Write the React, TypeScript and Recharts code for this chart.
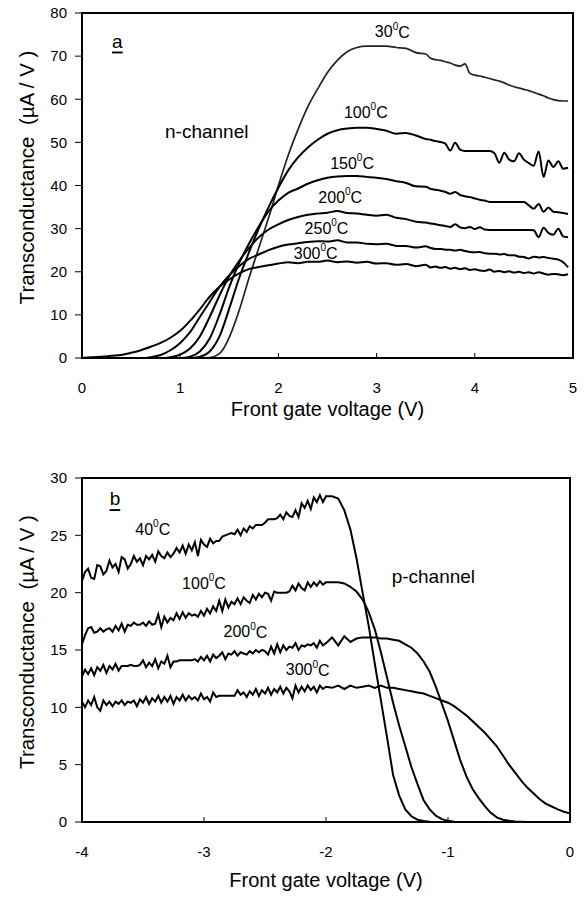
import React from "react";
import { LineChart, Line, XAxis, YAxis, ReferenceArea, ReferenceDot } from "recharts";

const FONT = "'Liberation Sans', Arial, sans-serif";

// ---- panel a : n-channel ----
const VG_N = [
  0, 0.1, 0.2, 0.3, 0.4, 0.5, 0.6, 0.7, 0.8, 0.9, 1.0, 1.1, 1.2, 1.3, 1.4, 1.5, 1.6, 1.7,
  1.8, 1.9, 2.0, 2.1, 2.2, 2.3, 2.4, 2.5, 2.6, 2.7, 2.8, 2.9, 3.0, 3.1, 3.2, 3.3, 3.4, 3.5,
  3.55, 3.6, 3.65, 3.7, 3.75, 3.8, 3.85, 3.9, 3.95, 4.0, 4.05, 4.1, 4.15, 4.2, 4.25, 4.3,
  4.35, 4.4, 4.45, 4.5, 4.55, 4.6, 4.65, 4.7, 4.75, 4.8, 4.85, 4.9, 4.95,
];
const GM_N_30 = [
  0, 0, 0, 0, 0, 0, 0, 0, 0, 0, 0, 0, 0, 0.1, 1.0, 4.8, 11, 18.5,
  25.5, 32.5, 40, 47, 53, 58.3, 62.4, 66.2, 69, 71, 72, 72.3, 72.3, 72.3, 72.0, 71.8, 70.8, 70.5,
  69.5, 69.2, 69.0, 68.7, 68.4, 67.9, 67.7, 68.2, 66.0, 65.6, 65.4, 65.1, 64.8, 64.5, 64.2, 63.8,
  63.3, 62.9, 62.6, 62.3, 62.0, 61.6, 61.2, 60.8, 60.3, 59.9, 59.7, 59.6, 59.6,
];
const GM_N_100 = [
  0, 0, 0, 0, 0, 0, 0, 0, 0, 0, 0, 0, 0.3, 1.5, 5, 11.5, 18.5, 24.5,
  30, 35, 39.5, 43.5, 46.5, 48.8, 50.6, 52, 52.8, 53.2, 53.4, 53.4, 53.1, 52.7, 52.0, 52.2, 51.6, 50.8,
  50.6, 50.3, 50.1, 49.7, 48.1, 49.9, 48.3, 48.0, 48.0, 48.0, 48.0, 48.0, 48.0, 47.5, 45.3, 47.6,
  46.0, 45.6, 47.5, 46.0, 45.2, 44.6, 47.9, 42.0, 45.8, 44.3, 45.6, 43.9, 44.1,
];
const GM_N_150 = [
  0, 0, 0, 0, 0, 0, 0, 0, 0, 0, 0, 0.3, 1.5, 4.5, 10, 16.5, 22, 26.5,
  30.5, 34, 36.5, 38.3, 39.3, 40.4, 41.2, 41.8, 42.1, 42.2, 42.2, 42.0, 41.8, 41.5, 41.0, 40.6, 39.8, 39.7,
  39.2, 39.0, 38.8, 38.5, 38.1, 38.5, 37.8, 37.5, 37.3, 37.0, 36.7, 36.5, 36.2, 36.2, 36.2, 36.2,
  36.2, 36.2, 36.2, 36.2, 35.4, 34.6, 35.7, 33.9, 34.9, 33.9, 33.8, 33.6, 33.4,
];
const GM_N_200 = [
  0, 0, 0, 0, 0, 0, 0, 0, 0, 0.2, 0.8, 2.2, 5, 9.5, 14.5, 19, 22.5, 25.5,
  28, 29.8, 31.0, 32.0, 32.7, 33.2, 33.5, 33.7, 34.1, 33.6, 33.5, 33.2, 33.0, 33.2, 32.5, 32.2, 31.6, 31.4,
  31.2, 31.0, 30.8, 30.6, 30.4, 31.0, 30.3, 30.1, 30.4, 29.9, 30.3, 29.8, 29.7, 29.7, 29.7, 29.7,
  29.7, 29.7, 29.7, 29.7, 29.7, 29.6, 28.0, 30.2, 29.0, 28.6, 30.0, 28.2, 28.0,
];
const GM_N_250 = [
  0, 0, 0, 0, 0, 0, 0, 0.2, 0.7, 1.8, 3.5, 6, 9.5, 13, 16.5, 19.2, 21.3, 23,
  24, 25, 25.8, 26.3, 26.6, 26.9, 27.1, 27.0, 27.3, 26.8, 26.8, 26.5, 26.4, 26.5, 26.0, 26.0, 25.6, 25.9,
  25.5, 25.3, 25.3, 25.1, 25.1, 24.9, 25.1, 24.8, 24.6, 24.5, 24.6, 24.3, 24.2, 24.2, 24.0, 24.1,
  23.8, 23.8, 23.5, 23.4, 23.1, 23.5, 23.3, 23.4, 23.2, 23.0, 22.8, 22.2, 21.0,
];
const GM_N_300 = [
  0, 0.2, 0.3, 0.5, 0.7, 1.2, 1.8, 2.6, 3.5, 4.7, 6.3, 8.6, 11.3, 14.2, 16.5, 18.2, 19.6, 20.6,
  21.1, 21.5, 21.9, 22.2, 22.0, 22.3, 22.3, 22.6, 22.2, 22.4, 22.1, 22.3, 21.9, 22.0, 21.6, 21.8, 21.3, 21.6,
  21.0, 21.2, 20.9, 21.1, 20.7, 20.9, 20.6, 20.8, 20.4, 20.6, 20.3, 20.2, 20.5, 20.0, 20.2, 19.9,
  20.1, 19.8, 20.0, 19.7, 19.9, 19.6, 19.9, 19.6, 19.3, 19.5, 19.4, 19.2, 19.4,
];
const N_TICKS_X = [0, 1, 2, 3, 4, 5];
const N_TICKS_Y = [0, 10, 20, 30, 40, 50, 60, 70, 80];
const N_LABELS = [
  { t: "30", x: 3.16, y: 75.6 },
  { t: "100", x: 2.89, y: 57.0 },
  { t: "150", x: 2.75, y: 45.2 },
  { t: "200", x: 2.63, y: 37.3 },
  { t: "250", x: 2.49, y: 30.1 },
  { t: "300", x: 2.38, y: 24.3 },
];

// ---- panel b : p-channel ----
const VG_P = [
  -4, -3.975, -3.95, -3.925, -3.9, -3.875, -3.85, -3.825, -3.8, -3.775, -3.75, -3.725, -3.7,
  -3.675, -3.65, -3.625, -3.6, -3.575, -3.55, -3.525, -3.5, -3.475, -3.45, -3.425, -3.4, -3.375,
  -3.35, -3.325, -3.3, -3.275, -3.25, -3.225, -3.2, -3.175, -3.15, -3.125, -3.1, -3.075, -3.05,
  -3.025, -3, -2.975, -2.95, -2.925, -2.9, -2.875, -2.85, -2.825, -2.8, -2.775, -2.75, -2.725,
  -2.7, -2.675, -2.65, -2.625, -2.6, -2.575, -2.55, -2.525, -2.5, -2.475, -2.45, -2.425, -2.4,
  -2.375, -2.35, -2.325, -2.3, -2.275, -2.25, -2.225, -2.2, -2.175, -2.15, -2.125, -2.1, -2.075,
  -2.05, -2.025, -2,
  -1.95, -1.9, -1.85, -1.8, -1.75, -1.7, -1.65, -1.6, -1.55, -1.5, -1.45, -1.4, -1.35, -1.3,
  -1.25, -1.2, -1.15, -1.1, -1.05, -1, -0.95, -0.9, -0.85, -0.8, -0.75, -0.7, -0.65, -0.6,
  -0.55, -0.5, -0.45, -0.4, -0.35, -0.3, -0.25, -0.2, -0.15, -0.1, -0.05, 0,
];
const GM_P_40 = [
  21.0, 21.8, 22.1, 21.3, 21.2, 22.4, 22.3, 21.6, 21.9, 22.8, 22.2, 22.5, 21.8,
  23.1, 22.9, 22.1, 22.5, 23.2, 22.7, 23.0, 22.4, 23.2, 22.9, 23.3, 22.7, 23.6,
  23.2, 23.0, 23.5, 23.1, 23.4, 23.9, 23.5, 24.1, 23.4, 24.2, 23.7, 24.4, 23.2,
  24.6, 24.2, 24.0, 24.7, 24.3, 24.5, 24.5, 24.9, 25.0, 25.1, 25.2, 25.1, 25.5,
  25.0, 25.6, 25.3, 25.8, 25.6, 25.9, 25.9, 25.9, 26.1, 26.4, 26.4, 26.4, 26.5,
  26.8, 26.4, 27.0, 26.7, 26.6, 27.2, 26.6, 27.8, 27.4, 28.0, 27.3, 28.3, 27.9,
  28.5, 27.9, 28.4,
  28.4, 28.2, 27.2, 25.5, 23.0, 20.0, 17.1, 13.8, 10.6, 7.4, 4.1, 2.3, 1.1, 0.5,
  0.2, 0.08, 0.03, 0, 0, 0, 0, 0, 0, 0, 0, 0, 0, 0,
  0, 0, 0, 0, 0, 0, 0, 0, 0, 0, 0, 0,
];
const GM_P_100 = [
  15.5, 16.3, 16.9, 17.0, 16.5, 16.6, 16.9, 16.6, 16.8, 16.9, 16.6, 17.1, 16.7,
  17.3, 16.6, 17.2, 17.1, 17.4, 17.2, 17.2, 17.4, 17.1, 17.5, 17.2, 17.3, 18.1,
  17.0, 17.9, 17.4, 17.8, 17.6, 18.2, 17.7, 18.3, 17.8, 18.2, 18.0, 18.1, 17.9,
  18.4, 18.0, 18.6, 18.2, 18.8, 18.4, 19.3, 18.4, 19.4, 18.7, 19.2, 19.0, 19.5,
  19.0, 19.6, 19.3, 19.1, 19.8, 19.4, 19.9, 19.6, 20.0, 19.9, 19.3, 20.1, 20.0,
  20.0, 20.0, 20.0, 20.1, 20.6, 20.2, 20.8, 20.4, 20.2, 20.9, 20.5, 20.9, 20.6,
  21.0, 20.7, 20.9,
  20.9, 20.9, 20.8, 20.5, 20.1, 19.4, 18.3, 16.8, 14.8, 12.6, 10.4, 8.4, 6.6, 4.8,
  3.3, 1.9, 1.1, 0.55, 0.25, 0.1, 0.03, 0, 0, 0, 0, 0, 0, 0,
  0, 0, 0, 0, 0, 0, 0, 0, 0, 0, 0, 0,
];
const GM_P_200 = [
  12.7, 13.3, 12.9, 13.4, 12.8, 13.5, 13.2, 13.7, 13.0, 13.6, 13.3, 13.8, 13.2,
  13.6, 13.6, 13.6, 13.7, 13.6, 13.6, 13.7, 14.1, 13.5, 13.9, 13.6, 14.2, 13.4,
  14.0, 13.8, 14.5, 13.5, 14.0, 14.0, 14.1, 14.1, 14.1, 14.1, 14.1, 14.2, 14.0,
  14.4, 14.1, 14.5, 14.0, 14.6, 14.3, 14.5, 14.8, 14.2, 14.7, 14.6, 14.9, 14.5,
  14.8, 14.7, 14.6, 14.9, 14.7, 15.0, 14.8, 15.0, 14.9, 14.6, 15.3, 14.7, 15.5,
  14.8, 15.4, 15.0, 15.3, 15.2, 15.6, 15.0, 15.4, 15.3, 15.5, 15.4, 15.6, 15.2,
  15.8, 15.4, 15.6,
  16.1, 15.4, 16.2, 15.7, 16.0, 16.1, 16.1, 16.1, 16.0, 16.0, 15.9, 15.8, 15.5, 15.2,
  14.7, 14.0, 13.1, 11.8, 10.3, 8.8, 7.1, 5.4, 4.0, 2.9, 2.1, 1.4, 0.8, 0.4,
  0.2, 0.1, 0.05, 0.02, 0, 0, 0, 0, 0, 0, 0, 0,
];
const GM_P_300 = [
  10.5, 10.0, 10.6, 10.2, 10.9, 10.0, 9.7, 10.6, 10.2, 10.5, 10.1, 10.5, 10.3,
  10.6, 10.2, 10.5, 10.4, 10.6, 10.1, 10.7, 10.4, 10.9, 10.3, 10.8, 10.5, 11.0,
  10.4, 10.9, 10.5, 11.0, 10.3, 10.9, 10.6, 11.1, 10.6, 11.0, 10.7, 10.9, 10.6,
  11.2, 10.7, 10.9, 10.5, 11.3, 10.9, 11.0, 11.0, 11.0, 11.0, 11.0, 11.0, 11.5,
  11.1, 11.3, 10.9, 11.4, 11.1, 11.6, 11.0, 11.5, 11.2, 11.7, 11.1, 11.6, 11.3,
  11.8, 11.2, 11.7, 11.4, 10.8, 11.9, 11.3, 11.8, 11.4, 11.9, 11.5, 11.8, 11.3,
  11.9, 11.6, 11.8,
  11.7, 11.9, 11.6, 11.9, 11.7, 11.8, 11.9, 11.7, 11.9, 11.7, 11.7, 11.6, 11.5, 11.4,
  11.3, 11.2, 11.0, 10.8, 10.6, 10.4, 10.1, 9.7, 9.3, 8.8, 8.3, 7.8, 7.2, 6.6,
  5.8, 5.0, 4.3, 3.6, 3.0, 2.5, 2.0, 1.6, 1.35, 1.1, 0.9, 0.75,
];
const P_TICKS_X = [-4, -3, -2, -1, 0];
const P_TICKS_Y = [0, 5, 10, 15, 20, 25, 30];
const P_LABELS = [
  { t: "40", x: -3.42, y: 25.55 },
  { t: "100", x: -3.0, y: 20.84 },
  { t: "200", x: -2.66, y: 16.57 },
  { t: "300", x: -2.15, y: 13.26 },
];

const N_DATA = VG_N.map((vg, i) => ({
  vg, t30: GM_N_30[i], t100: GM_N_100[i], t150: GM_N_150[i],
  t200: GM_N_200[i], t250: GM_N_250[i], t300: GM_N_300[i],
}));
const P_DATA = VG_P.map((vg, i) => ({
  vg, t40: GM_P_40[i], t100: GM_P_100[i], t200: GM_P_200[i], t300: GM_P_300[i],
}));

const TICK_GAP = 24;

function InwardTick(props: any) {
  const { x, y, payload } = props;
  const axisY = y - TICK_GAP;
  return (
    <g>
      <line x1={x} x2={x} y1={axisY} y2={axisY - 5} stroke="#000" strokeWidth={1} />
      <text x={x} y={y} dy={11} textAnchor="middle" fill="#000" fontSize={15} fontFamily={FONT}>
        {payload.value}
      </text>
    </g>
  );
}

const xTitle = (offset: number) => ({ viewBox }: any) => (
  <text x={viewBox.x + viewBox.width / 2} y={viewBox.y + offset} textAnchor="middle"
    fontSize={20} fontFamily={FONT} fill="#000">
    Front gate voltage (V)
  </text>
);

const yTitle = ({ viewBox }: any) => {
  const cx = viewBox.x + 4;
  const cy = viewBox.y + viewBox.height / 2 - 8;
  return (
    <text transform={`translate(${cx},${cy}) rotate(-90)`} textAnchor="middle"
      dominantBaseline="central" fontSize={20.5} fontFamily={FONT} fill="#000">
      {"Transconductance\u00a0\u00a0(\u00b5A / V )"}
    </text>
  );
};

const tempLabel = (t: string) => ({ viewBox }: any) => (
  <text x={viewBox.x} y={viewBox.y} textAnchor="middle" dominantBaseline="central"
    fontSize={16} fontFamily={FONT} fill="#000">
    {t}
    <tspan fontSize={10} dy={-6}>0</tspan>
    <tspan dy={6}>C</tspan>
  </text>
);

const plainLabel = (t: string, size: number, underline = false) => ({ viewBox }: any) => (
  <text x={viewBox.x} y={viewBox.y} textAnchor="middle" dominantBaseline="central"
    fontSize={size} fontFamily={FONT} fill="#000"
    textDecoration={underline ? "underline" : undefined}>
    {t}
  </text>
);

const yTick = { fill: "#000", fontSize: 15, fontFamily: FONT };

export default function App() {
  return (
    <div style={{ position: "absolute", left: 0, top: 0, width: 584, height: 900, background: "#fff" }}>
      <div style={{ position: "absolute", left: 0, top: 0 }}>
        <LineChart width={584} height={440} data={N_DATA} margin={{ top: 13, right: 11, left: 22, bottom: 2 }}>
          <XAxis dataKey="vg" type="number" domain={[0, 5]} ticks={N_TICKS_X} height={80}
            axisLine={{ stroke: "#000", strokeWidth: 2 }} tickLine={false} tickSize={0}
            tickMargin={TICK_GAP} tick={<InwardTick />} label={{ content: xTitle(58) }} />
          <YAxis type="number" domain={[0, 80]} ticks={N_TICKS_Y} width={60}
            axisLine={{ stroke: "#000", strokeWidth: 2 }} tickLine={{ stroke: "#000" }}
            tickSize={7} tickMargin={8} tick={yTick} label={{ content: yTitle }} />
          <ReferenceArea x1={0} x2={5} y1={0} y2={80} fill="none" stroke="#000" strokeWidth={2} />
          <Line dataKey="t30" type="monotone" stroke="#222" strokeWidth={1.7} dot={false} isAnimationActive={false} />
          <Line dataKey="t100" type="monotone" stroke="#000" strokeWidth={2} dot={false} isAnimationActive={false} />
          <Line dataKey="t150" type="monotone" stroke="#000" strokeWidth={2} dot={false} isAnimationActive={false} />
          <Line dataKey="t200" type="monotone" stroke="#000" strokeWidth={2} dot={false} isAnimationActive={false} />
          <Line dataKey="t250" type="monotone" stroke="#000" strokeWidth={2} dot={false} isAnimationActive={false} />
          <Line dataKey="t300" type="monotone" stroke="#000" strokeWidth={2} dot={false} isAnimationActive={false} />
          {N_LABELS.map((l) => (
            <ReferenceDot key={l.t} x={l.x} y={l.y} r={0} fill="none" stroke="none" label={{ content: tempLabel(l.t) }} />
          ))}
          <ReferenceDot x={1.27} y={52.6} r={0} fill="none" stroke="none" label={{ content: plainLabel("n-channel", 19) }} />
          <ReferenceDot x={0.36} y={73.5} r={0} fill="none" stroke="none" label={{ content: plainLabel("a", 19, true) }} />
        </LineChart>
      </div>
      <div style={{ position: "absolute", left: 0, top: 440 }}>
        <LineChart width={584} height={460} data={P_DATA} margin={{ top: 38, right: 14, left: 22, bottom: 2 }}>
          <XAxis dataKey="vg" type="number" domain={[-4, 0]} ticks={P_TICKS_X} height={76}
            axisLine={{ stroke: "#000", strokeWidth: 2 }} tickLine={false} tickSize={0}
            tickMargin={TICK_GAP} tick={<InwardTick />} label={{ content: xTitle(65) }} />
          <YAxis type="number" domain={[0, 30]} ticks={P_TICKS_Y} width={60}
            axisLine={{ stroke: "#000", strokeWidth: 2 }} tickLine={{ stroke: "#000" }}
            tickSize={7} tickMargin={8} tick={yTick} label={{ content: yTitle }} />
          <ReferenceArea x1={-4} x2={0} y1={0} y2={30} fill="none" stroke="#000" strokeWidth={2} />
          <Line dataKey="t40" type="linear" stroke="#000" strokeWidth={2} dot={false} isAnimationActive={false} />
          <Line dataKey="t100" type="linear" stroke="#000" strokeWidth={2} dot={false} isAnimationActive={false} />
          <Line dataKey="t200" type="linear" stroke="#000" strokeWidth={2} dot={false} isAnimationActive={false} />
          <Line dataKey="t300" type="linear" stroke="#000" strokeWidth={2} dot={false} isAnimationActive={false} />
          {P_LABELS.map((l) => (
            <ReferenceDot key={l.t} x={l.x} y={l.y} r={0} fill="none" stroke="none" label={{ content: tempLabel(l.t) }} />
          ))}
          <ReferenceDot x={-1.12} y={21.37} r={0} fill="none" stroke="none" label={{ content: plainLabel("p-channel", 19) }} />
          <ReferenceDot x={-3.73} y={28.2} r={0} fill="none" stroke="none" label={{ content: plainLabel("b", 19, true) }} />
        </LineChart>
      </div>
    </div>
  );
}
